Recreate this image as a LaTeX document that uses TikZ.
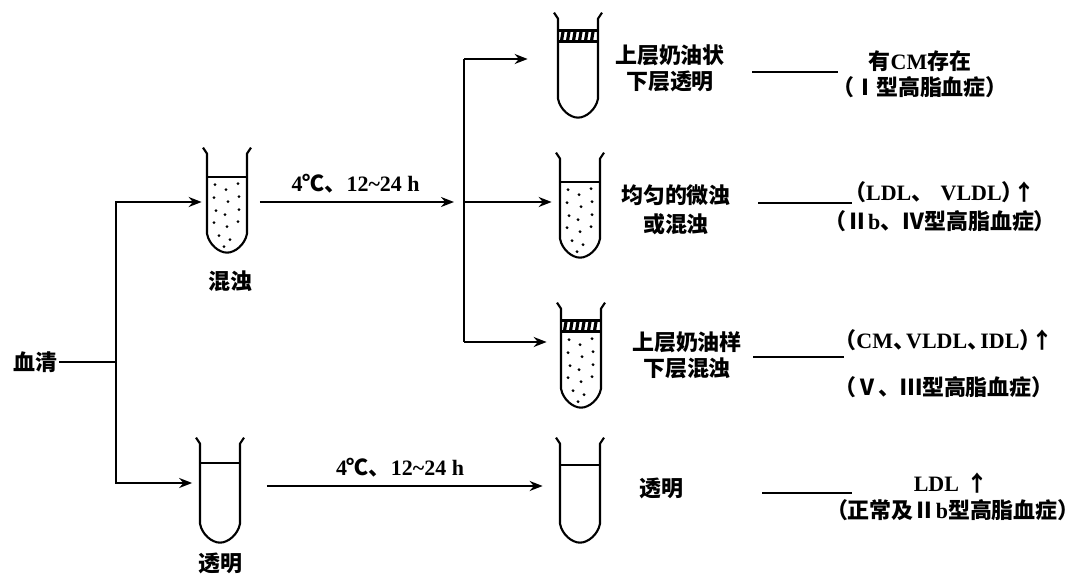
\documentclass[tikz,border=0pt]{standalone}
\usepackage{fontspec}
\setmainfont{Liberation Serif}
\newfontfamily\cjk{Noto Sans CJK SC}
\newcommand{\zh}[1]{{\cjk #1}}
\usetikzlibrary{arrows.meta}
\tikzset{
  link/.style={line width=1.1pt},
  flowarrow/.style={-{Stealth[length=2.6mm, width=2mm]}, line width=1.1pt},
  tubebox/.style={minimum width=8mm, minimum height=20.8mm, inner sep=0pt},
  tubewall/.style={line width=1.2pt, line join=round},
  txt/.style={inner sep=1pt, align=center},
  result/.style={txt, text width=50mm}
}
% outline of a test tube, drawn from the top of its node
\newcommand{\tubeoutline}[1]{%
  \begin{scope}[shift={(#1.north)}]
    \draw[tubewall] (-24,-2) -- (-20,4) -- (-20,84)
      .. controls (-18,95) and (-8,103) .. (0,103)
      .. controls (8,103) and (18,95) .. (20,84) -- (20,4) -- (24,-2);
  \end{scope}}
% liquid level with the dots of a turbid serum
\newcommand{\turbidfill}[2]{%
  \begin{scope}[shift={(#1.north)}]
    \draw[tubewall] (-20,#2) -- (20,#2);
    \foreach \dx/\dy in {-12/35,-1/40,11/34,-13/48,1/52,12/47,-11/61,-2/65,12/60,
                         -13/73,0/77,11/72,-8/86,3/90,-3/97}
      \fill (\dx,\dy) circle (0.32mm);
  \end{scope}}
% creamy top layer
\newcommand{\creamband}[1]{%
  \begin{scope}[shift={(#1.north)}]
    \draw[line width=2pt] (-20,16) -- (20,16) (-20,27) -- (20,27);
    \foreach \hx in {-15,-9,...,15}
      \draw[line width=1.8pt] (\hx,17) -- (\hx-1.5,26);
  \end{scope}}

\begin{document}
\begin{tikzpicture}[x=0.2mm, y=-0.2mm, every node/.style={font=\fontsize{12.5}{15}\selectfont\bfseries}]
  \useasboundingbox (0,0) rectangle (1081,577);

  % tubes
  \node[tubebox] (muddytube) at (227,202) {};
  \node[tubebox] (cleartube) at (220,492) {};
  \node[tubebox] (creamclear) at (578,67) {};
  \node[tubebox] (turbid) at (580,207) {};
  \node[tubebox] (creamturbid) at (581,357) {};
  \node[tubebox] (clearfinal) at (580,492) {};
  \tubeoutline{muddytube}
  \tubeoutline{cleartube}
  \tubeoutline{creamclear}
  \tubeoutline{turbid}
  \tubeoutline{creamturbid}
  \tubeoutline{clearfinal}
  \turbidfill{muddytube}{27}
  \turbidfill{turbid}{27}
  \turbidfill{creamturbid}{27}
  \creamband{creamclear}
  \creamband{creamturbid}
  \begin{scope}[shift={(cleartube.north)}]
    \draw[tubewall] (-20,23) -- (20,23);
  \end{scope}
  \begin{scope}[shift={(clearfinal.north)}]
    \draw[tubewall] (-20,25) -- (20,25);
  \end{scope}

  % labels
  \node[txt] (serum) at (35,362) {\zh{血清}};
  \node[txt] (muddylabel) at (230,281) {\zh{混浊}};
  \node[txt] (clearlabel) at (220,563) {\zh{透明}};

  \node[txt] (desc1) at (670,68) {\zh{上层奶油状}\\\zh{下层透明}};
  \node[txt] (desc2) at (676,210) {\zh{均匀的微浊}\\[1.5pt]\zh{或混浊}};
  \node[txt] (desc3) at (687,355) {\zh{上层奶油样}\\\zh{下层混浊}};
  \node[txt] (desc4) at (661,488) {\zh{透明}};

  \node[result] (res1) at (920,74.5) {\zh{有}CM\zh{存在}\\\zh{（Ⅰ型高脂血症）}};
  \node[result] (res2) at (940,207) {\zh{（}LDL\zh{、} VLDL\zh{）\kern-.45em↑}\\[1.5pt]\zh{（Ⅱ}b\zh{、Ⅳ型高脂血症）}};
  \node[result] (res3) at (944,363.5) {\zh{（}CM\zh{、\kern-.4em}VLDL\zh{、\kern-.4em}IDL\zh{）\kern-.45em↑}\\[12pt]\zh{（Ⅴ、Ⅲ型高脂血症）}};
  \node[result] (res4) at (951,497) {LDL \zh{↑}\\\zh{（正常及Ⅱ}b\zh{型高脂血症）}};

  % serum splits
  \coordinate (split) at (116,362);
  \draw[link] (serum.east) -- (split);
  \draw[flowarrow, shorten >=1mm] (split) |- (muddytube.west);
  \draw[flowarrow, shorten >=1.5mm] (split) |- ([yshift=1.8mm]cleartube.west);

  % standing at 4 C
  \coordinate (forktop) at (464,59);
  \coordinate (forkmid) at (464,202);
  \coordinate (forkbot) at (464,342);
  \draw[flowarrow, shorten <=2.5mm, shorten >=2mm] (muddytube.east) -- node[above=1pt]{4\zh{℃、}12\textasciitilde24 h} (forkmid);
  \draw[link] (forktop) -- (forkbot);
  \draw[flowarrow, shorten >=6mm] (forktop) -- (forktop -| creamclear.west);
  \draw[flowarrow, shorten >=1.6mm] (forkmid) -- (forkmid -| turbid.west);
  \draw[flowarrow, shorten >=2.8mm] (forkbot) -- (forkbot -| creamturbid.west);
  \draw[flowarrow, shorten <=5.3mm, shorten >=3.4mm] ([yshift=1.2mm]cleartube.east) -- node[above=1pt]{4\zh{℃、}12\textasciitilde24 h} ([yshift=1.2mm]clearfinal.west);

  % results
  \draw[link, shorten <=5mm, shorten >=-9mm] ([yshift=-0.8mm]desc1.east) -- ([yshift=-0.8mm]desc1.east -| res1.west);
  \draw[link, shorten <=5mm, shorten >=-7.8mm] ([yshift=1.4mm]desc2.east) -- ([yshift=1.4mm]desc2.east -| res2.west);
  \draw[link, shorten <=1.8mm, shorten >=-5.4mm] ([yshift=-0.4mm]desc3.east) -- ([yshift=-0.4mm]desc3.east -| res3.west);
  \draw[link, shorten <=15.4mm, shorten >=-5.6mm] ([yshift=-1mm]desc4.east) -- ([yshift=-1mm]desc4.east -| res4.west);
\end{tikzpicture}
\end{document}
